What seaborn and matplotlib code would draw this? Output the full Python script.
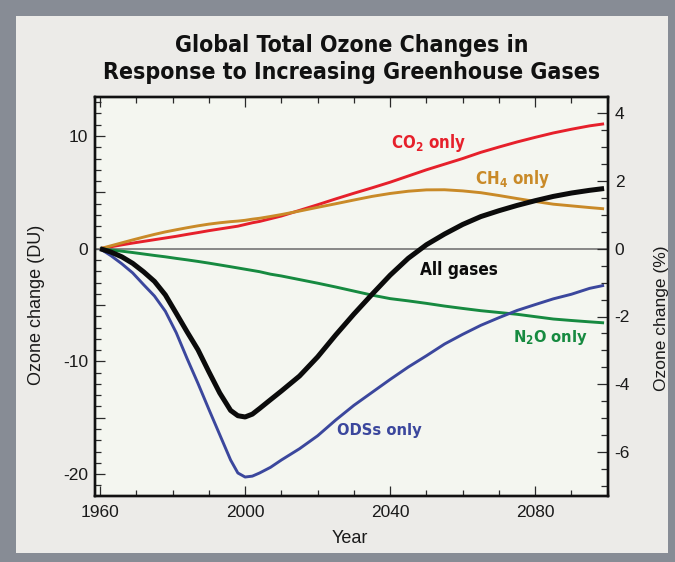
import matplotlib
matplotlib.use("Agg")
import matplotlib.pyplot as plt
from matplotlib import font_manager as fm
from matplotlib.patches import Rectangle
from matplotlib.ticker import MultipleLocator, FuncFormatter
import seaborn as sns
import pandas as pd

# Model years (shared by every scenario)
years = [1960, 1963, 1966, 1969, 1972, 1975, 1978, 1981, 1984, 1987, 1990, 1993, 1996,
         1998, 2000, 2002, 2004, 2007, 2010, 2015, 2020, 2025, 2030, 2035, 2040, 2045,
         2050, 2055, 2060, 2065, 2070, 2075, 2080, 2085, 2090, 2095, 2099]

# Global total ozone change (DU) for each forcing scenario
co2_only = [0, 0.17, 0.34, 0.50, 0.65, 0.80, 0.95, 1.10, 1.27, 1.43, 1.60, 1.75, 1.90,
            2.00, 2.15, 2.30, 2.42, 2.66, 2.90, 3.40, 3.90, 4.42, 4.92, 5.40, 5.90, 6.45,
            7.00, 7.50, 8.00, 8.55, 9.02, 9.47, 9.88, 10.27, 10.60, 10.90, 11.08]
ch4_only = [0, 0.26, 0.52, 0.78, 1.03, 1.27, 1.49, 1.68, 1.86, 2.03, 2.18, 2.30, 2.40,
            2.45, 2.52, 2.62, 2.70, 2.86, 3.03, 3.34, 3.67, 3.99, 4.32, 4.64, 4.90, 5.10,
            5.22, 5.23, 5.13, 4.97, 4.72, 4.45, 4.19, 3.95, 3.80, 3.65, 3.54]
n2o_only = [0, -0.11, -0.22, -0.34, -0.47, -0.60, -0.72, -0.86, -0.99, -1.13, -1.28, -1.44, -1.60,
            -1.71, -1.82, -1.93, -2.04, -2.26, -2.42, -2.74, -3.06, -3.40, -3.76, -4.12, -4.43, -4.63,
            -4.85, -5.09, -5.30, -5.50, -5.66, -5.82, -6.03, -6.24, -6.37, -6.49, -6.58]
ods_only = [0, -0.62, -1.34, -2.15, -3.19, -4.20, -5.55, -7.45, -9.75, -11.95, -14.25, -16.50, -18.75,
            -19.90, -20.26, -20.18, -19.90, -19.40, -18.75, -17.75, -16.60, -15.20, -13.90, -12.75, -11.60, -10.50,
            -9.50, -8.46, -7.60, -6.80, -6.12, -5.48, -4.96, -4.45, -4.04, -3.52, -3.25]
all_gases = [0, -0.30, -0.72, -1.30, -2.05, -2.90, -4.10, -5.73, -7.38, -8.97, -10.92, -12.80, -14.35,
             -14.82, -14.93, -14.68, -14.18, -13.40, -12.63, -11.30, -9.60, -7.65, -5.80, -4.05, -2.35, -0.85,
             0.35, 1.30, 2.15, 2.85, 3.37, 3.84, 4.26, 4.64, 4.94, 5.18, 5.34]

series_names = ["CO2 only", "CH4 only", "N2O only", "ODSs only", "All gases"]
series_values = [co2_only, ch4_only, n2o_only, ods_only, all_gases]
series_labels = ["CO$_2$ only", "CH$_4$ only", "N$_2$O only", "ODSs only", "All gases"]
label_years = [2050.6, 2073.7, 2084.2, 2036.9, 2059.0]
label_du = [9.4, 6.2, -7.9, -16.1, -1.9]
label_px_widths = [75, 75, 75, 85, 78]

colors = ["#e6202b", "#c98a28", "#168a40", "#3b479d", "#0b0b0b"]
widths = [2.1, 2.1, 2.1, 2.1, 3.6]

df = pd.DataFrame({
    "Year": years * len(series_names),
    "DU": sum(series_values, []),
    "Series": [n for n in series_names for _ in years],
})

sns.set_theme(style="ticks")
plt.rcParams["font.family"] = ["Liberation Sans", "DejaVu Sans"]
plt.rcParams["mathtext.default"] = "regular"

# Pick a narrow bold face for the headline and curve labels
_entries = fm.fontManager.ttflist
_names = {e.name for e in _entries}
if "Liberation Sans Narrow" in _names:
    heavy = dict(family="Liberation Sans Narrow", weight="bold")
elif any(e.name == "DejaVu Sans" and "condensed" in str(e.stretch) for e in _entries):
    heavy = dict(family="DejaVu Sans", stretch="condensed", weight="bold")
else:
    heavy = dict(family="Roboto", weight="bold")

W, H = 675, 562
fig = plt.figure(figsize=(W / 100, H / 100), dpi=100)
fig.patch.set_facecolor("#878c95")
fig.add_artist(Rectangle((16 / W, 9 / H), (668 - 16) / W, (553 - 16) / H,
                         transform=fig.transFigure, facecolor="#ecebe8",
                         edgecolor="none", zorder=0))

ax = fig.add_axes([95 / W, 1 - 496 / H, (607.7 - 95) / W, (496 - 97) / H])
ax.set_facecolor("#f4f6f0")

ax.axhline(0, color="#6a6a6a", lw=1.1, zorder=1)

for name, col, lw in zip(series_names, colors, widths):
    sub = df[df["Series"] == name]
    sns.lineplot(data=sub, x="Year", y="DU", ax=ax, color=col, lw=lw,
                 legend=False, zorder=3 if name == "All gases" else 2,
                 solid_capstyle="butt", solid_joinstyle="round")

label_texts = []
for lab, x, y, col in zip(series_labels, label_years, label_du, colors):
    label_texts.append(ax.text(x, y, lab, color=col, fontsize=12.5,
                               ha="center", va="center", **heavy))

ax.set_xlim(1958.6, 2100)
ax.set_ylim(-247.3 / 11.27, 151.7 / 11.27)

ax.xaxis.set_major_locator(MultipleLocator(40))
ax.xaxis.set_minor_locator(MultipleLocator(10))
ax.yaxis.set_major_locator(MultipleLocator(5))
ax.yaxis.set_minor_locator(MultipleLocator(1))
ax.yaxis.set_major_formatter(FuncFormatter(lambda v, p: f"{v:.0f}" if round(v) % 10 == 0 else ""))

tick_kw = dict(direction="in", color="#2a2a2a", labelsize=12.5, labelcolor="#1a1a1a")
ax.tick_params(axis="x", which="both", top=True, bottom=True, **tick_kw, pad=6.5)
ax.tick_params(axis="y", which="both", left=True, right=False, **tick_kw, pad=5)
ax.tick_params(which="major", length=7.5, width=0.9)
ax.tick_params(which="minor", length=4.6, width=0.9)

for s in ax.spines.values():
    s.set_linewidth(1.7)
    s.set_color("#111111")

ax.set_xlabel("Year", fontsize=13, color="#1a1a1a")
ax.set_ylabel("Ozone change (DU)", fontsize=13, color="#1a1a1a")
ax.xaxis.set_label_coords(0.497, -0.085)
ax.yaxis.set_label_coords(-0.098, 0.48)

# Percent axis: 1 % of the total column is about 3 DU
ax2 = ax.twinx()
ax2.set_ylim(-247.3 / 33.9, 151.7 / 33.9)
ax2.yaxis.set_major_locator(MultipleLocator(2))
ax2.yaxis.set_minor_locator(MultipleLocator(0.5))
ax2.yaxis.set_major_formatter(FuncFormatter(lambda v, p: f"{v:.0f}"))
ax2.tick_params(axis="y", which="both", right=True, left=False, **tick_kw, pad=5)
ax2.tick_params(which="major", length=7.8, width=0.9)
ax2.tick_params(which="minor", length=4.8, width=0.9)
for s in ax2.spines.values():
    s.set_linewidth(1.7)
    s.set_color("#111111")
ax2.set_ylabel("Ozone change (%)", fontsize=12.5, color="#1a1a1a", rotation=90)
ax2.yaxis.set_label_coords(1.091, 0.445)

title = fig.text((95 + 607.7) / 2 / W, 1 - 59 / H,
                 "Global Total Ozone Changes in\nResponse to Increasing Greenhouse Gases",
                 ha="center", va="center", fontsize=21, linespacing=1.22, color="#111111",
                 **heavy)

# Size the bold texts so their widths match the layout
renderer = fig.canvas.get_renderer()


def fit_width(txt, target_px, max_size):
    w = txt.get_window_extent(renderer).width
    txt.set_fontsize(min(max_size, txt.get_fontsize() * target_px / w))


fit_width(title, 495, 24)
for t, wpx in zip(label_texts, label_px_widths):
    fit_width(t, wpx, 14)

fig.savefig("out.png", dpi=100, facecolor=fig.get_facecolor())
